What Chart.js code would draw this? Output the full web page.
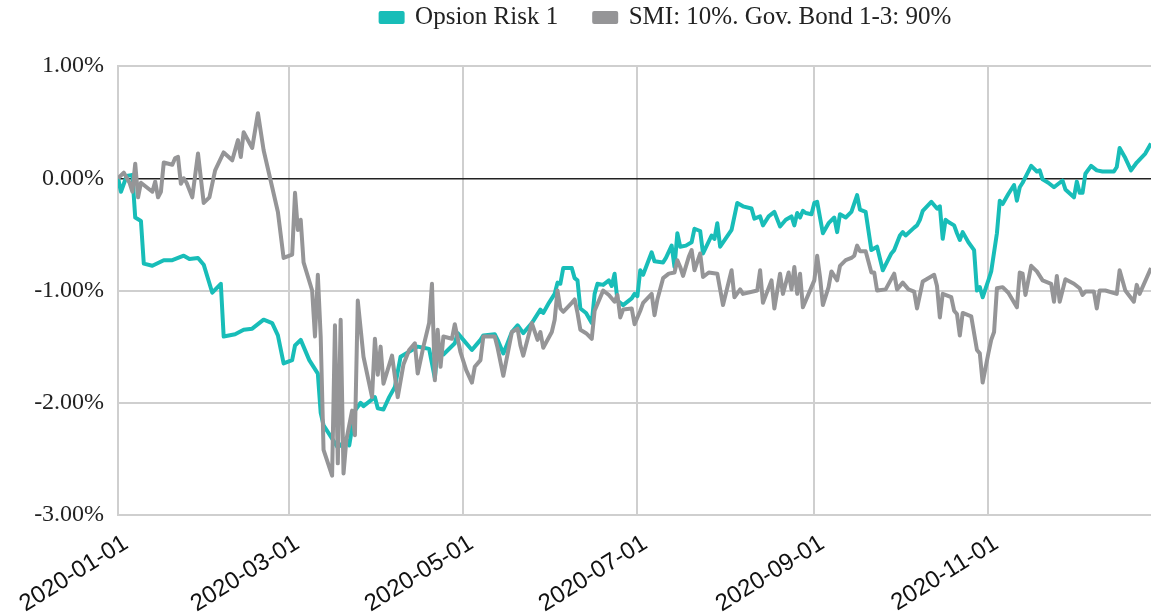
<!DOCTYPE html>
<html><head><meta charset="utf-8">
<script src="https://cdn.jsdelivr.net/npm/chart.js@4.4.1/dist/chart.umd.min.js"></script>
<style>html,body{margin:0;padding:0;background:#fff}#wrap{width:1151px;height:616px}</style>
</head><body><div id="wrap"><canvas id="c" width="1151" height="616"></canvas></div>
<script>
const seriesNames = ['Opsion Risk 1', 'SMI: 10%. Gov. Bond 1-3: 90%'];
const tickLabels = ['2020-01-01','2020-03-01','2020-05-01','2020-07-01','2020-09-01','2020-11-01'];
const axisEnd = '2020-12-28';
const yTicks = [1, 0, -1, -2, -3];

const riskDates = ['2020-01-01','2020-01-02','2020-01-04','2020-01-06','2020-01-07','2020-01-09','2020-01-10','2020-01-13','2020-01-17','2020-01-20','2020-01-24','2020-01-26','2020-01-29','2020-01-31',
'2020-02-03','2020-02-06','2020-02-07','2020-02-11','2020-02-14','2020-02-17','2020-02-21','2020-02-24','2020-02-26','2020-02-28',
'2020-03-02','2020-03-03','2020-03-05','2020-03-08','2020-03-11','2020-03-12','2020-03-13','2020-03-16','2020-03-18','2020-03-21','2020-03-22','2020-03-24','2020-03-26','2020-03-27','2020-03-31',
'2020-04-01','2020-04-03','2020-04-05','2020-04-07','2020-04-09','2020-04-13','2020-04-15','2020-04-17','2020-04-19','2020-04-21','2020-04-22','2020-04-24','2020-04-28','2020-04-29',
'2020-05-01','2020-05-04','2020-05-05','2020-05-07','2020-05-08','2020-05-12','2020-05-13','2020-05-15','2020-05-16','2020-05-18','2020-05-20','2020-05-22','2020-05-25','2020-05-26','2020-05-28','2020-05-29','2020-05-31',
'2020-06-02','2020-06-03','2020-06-04','2020-06-05','2020-06-08','2020-06-09','2020-06-10','2020-06-11','2020-06-13','2020-06-15','2020-06-16','2020-06-17','2020-06-19','2020-06-21','2020-06-22','2020-06-23','2020-06-24','2020-06-26','2020-06-29','2020-06-30',
'2020-07-01','2020-07-02','2020-07-03','2020-07-06','2020-07-07','2020-07-10','2020-07-11','2020-07-13','2020-07-14','2020-07-15','2020-07-16','2020-07-18','2020-07-20','2020-07-21','2020-07-23','2020-07-24','2020-07-27','2020-07-28','2020-07-29','2020-07-30',
'2020-08-03','2020-08-05','2020-08-07','2020-08-10','2020-08-11','2020-08-13','2020-08-14','2020-08-16','2020-08-18','2020-08-20','2020-08-22','2020-08-24','2020-08-25','2020-08-26','2020-08-27','2020-08-28','2020-08-29','2020-08-31',
'2020-09-01','2020-09-02','2020-09-04','2020-09-06','2020-09-08','2020-09-09','2020-09-10','2020-09-12','2020-09-14','2020-09-16','2020-09-17','2020-09-19','2020-09-21','2020-09-23','2020-09-25','2020-09-28','2020-09-29',
'2020-10-01','2020-10-02','2020-10-03','2020-10-06','2020-10-07','2020-10-08','2020-10-09','2020-10-12','2020-10-14','2020-10-15','2020-10-16','2020-10-17','2020-10-18','2020-10-20','2020-10-21','2020-10-22','2020-10-23','2020-10-25','2020-10-27','2020-10-28','2020-10-29','2020-10-30',
'2020-11-01','2020-11-02','2020-11-04','2020-11-05','2020-11-06','2020-11-08','2020-11-10','2020-11-11','2020-11-12','2020-11-13','2020-11-14','2020-11-16','2020-11-18','2020-11-19','2020-11-20','2020-11-22','2020-11-24','2020-11-27','2020-11-28',
'2020-12-01','2020-12-02','2020-12-03','2020-12-04','2020-12-05','2020-12-07','2020-12-09','2020-12-11','2020-12-15','2020-12-16','2020-12-17','2020-12-19','2020-12-21','2020-12-23','2020-12-26','2020-12-28'];
const riskValues = [0.00,-0.12,0.02,0.03,-0.35,-0.38,-0.76,-0.78,-0.73,-0.73,-0.69,-0.72,-0.71,-0.77,
-1.02,-0.94,-1.41,-1.39,-1.35,-1.34,-1.26,-1.29,-1.40,-1.65,
-1.62,-1.49,-1.44,-1.62,-1.74,-2.09,-2.20,-2.32,-2.40,-2.33,-2.38,-2.07,-2.00,-2.03,-1.95,
-2.05,-2.06,-1.95,-1.86,-1.59,-1.53,-1.50,-1.51,-1.52,-1.78,-1.52,-1.57,-1.47,-1.38,
-1.44,-1.53,-1.50,-1.44,-1.40,-1.39,-1.44,-1.56,-1.50,-1.37,-1.31,-1.38,-1.29,-1.25,-1.17,-1.20,-1.11,
-1.03,-0.93,-0.94,-0.80,-0.80,-0.89,-0.91,-1.16,-1.20,-1.29,-1.03,-0.94,-0.95,-0.91,-0.96,-0.85,-1.09,-1.13,-1.07,-1.03,
-1.05,-0.82,-0.86,-0.66,-0.74,-0.75,-0.71,-0.60,-0.79,-0.49,-0.61,-0.60,-0.57,-0.45,-0.47,-0.67,-0.51,-0.54,-0.40,-0.61,
-0.46,-0.22,-0.25,-0.27,-0.36,-0.34,-0.42,-0.34,-0.30,-0.43,-0.37,-0.34,-0.42,-0.31,-0.35,-0.29,-0.31,-0.32,
-0.22,-0.21,-0.49,-0.40,-0.35,-0.48,-0.32,-0.35,-0.30,-0.15,-0.28,-0.30,-0.64,-0.61,-0.82,-0.67,-0.64,
-0.51,-0.48,-0.51,-0.44,-0.42,-0.37,-0.29,-0.21,-0.27,-0.25,-0.54,-0.37,-0.39,-0.42,-0.49,-0.55,-0.48,-0.57,-0.64,-1.00,-0.97,-1.06,
-0.91,-0.83,-0.49,-0.20,-0.23,-0.14,-0.06,-0.20,-0.08,-0.04,0.01,0.11,0.06,0.07,-0.01,-0.04,-0.08,-0.02,-0.10,
-0.17,-0.03,-0.13,-0.13,0.04,0.11,0.07,0.06,0.06,0.10,0.27,0.18,0.07,0.14,0.22,0.31];

const benchDates = ['2020-01-01','2020-01-03','2020-01-05','2020-01-06','2020-01-07','2020-01-08','2020-01-09','2020-01-10','2020-01-13','2020-01-14','2020-01-15','2020-01-16','2020-01-17','2020-01-20','2020-01-21','2020-01-22','2020-01-23','2020-01-24','2020-01-25','2020-01-27','2020-01-29','2020-01-31',
'2020-02-02','2020-02-04','2020-02-07','2020-02-10','2020-02-12','2020-02-13','2020-02-14','2020-02-17','2020-02-19','2020-02-21','2020-02-24','2020-02-26','2020-02-28',
'2020-03-02','2020-03-03','2020-03-04','2020-03-05','2020-03-06','2020-03-09','2020-03-10','2020-03-11','2020-03-12','2020-03-13','2020-03-16','2020-03-17','2020-03-18','2020-03-19','2020-03-20','2020-03-21','2020-03-23','2020-03-24','2020-03-25','2020-03-27','2020-03-30','2020-03-31',
'2020-04-01','2020-04-02','2020-04-03','2020-04-06','2020-04-08','2020-04-10','2020-04-12','2020-04-14','2020-04-15','2020-04-17','2020-04-19','2020-04-20','2020-04-21','2020-04-22','2020-04-23','2020-04-24','2020-04-27','2020-04-28','2020-04-30',
'2020-05-02','2020-05-04','2020-05-05','2020-05-07','2020-05-08','2020-05-12','2020-05-13','2020-05-15','2020-05-18','2020-05-20','2020-05-21','2020-05-22','2020-05-25','2020-05-27','2020-05-28','2020-05-29',
'2020-06-01','2020-06-02','2020-06-03','2020-06-04','2020-06-05','2020-06-08','2020-06-09','2020-06-10','2020-06-11','2020-06-13','2020-06-15','2020-06-16','2020-06-19','2020-06-21','2020-06-23','2020-06-24','2020-06-25','2020-06-26','2020-06-29','2020-06-30',
'2020-07-02','2020-07-03','2020-07-06','2020-07-07','2020-07-08','2020-07-10','2020-07-12','2020-07-14','2020-07-15','2020-07-16','2020-07-17','2020-07-19','2020-07-20','2020-07-21','2020-07-23','2020-07-24','2020-07-26','2020-07-29','2020-07-31',
'2020-08-03','2020-08-04','2020-08-06','2020-08-07','2020-08-12','2020-08-13','2020-08-14','2020-08-17','2020-08-18','2020-08-20','2020-08-21','2020-08-23','2020-08-24','2020-08-25','2020-08-26','2020-08-27','2020-08-28','2020-08-30',
'2020-09-01','2020-09-02','2020-09-03','2020-09-04','2020-09-06','2020-09-07','2020-09-09','2020-09-10','2020-09-12','2020-09-14','2020-09-15','2020-09-16','2020-09-17','2020-09-19','2020-09-21','2020-09-22','2020-09-23','2020-09-26','2020-09-29','2020-09-30',
'2020-10-02','2020-10-04','2020-10-06','2020-10-07','2020-10-09','2020-10-13','2020-10-14','2020-10-15','2020-10-16','2020-10-19','2020-10-20','2020-10-21','2020-10-22','2020-10-23','2020-10-26','2020-10-28','2020-10-29','2020-10-30',
'2020-11-01','2020-11-02','2020-11-03','2020-11-04','2020-11-06','2020-11-08','2020-11-11','2020-11-12','2020-11-13','2020-11-14','2020-11-15','2020-11-16','2020-11-18','2020-11-20','2020-11-23','2020-11-24','2020-11-25','2020-11-26','2020-11-28',
'2020-12-01','2020-12-03','2020-12-04','2020-12-05','2020-12-08','2020-12-09','2020-12-10','2020-12-12','2020-12-16','2020-12-17','2020-12-19','2020-12-22','2020-12-23','2020-12-24','2020-12-28'];
const benchValues = [0.00,0.05,-0.04,-0.12,0.13,-0.17,-0.04,-0.06,-0.12,-0.03,-0.17,-0.12,0.14,0.12,0.18,0.19,-0.05,0.00,-0.04,-0.17,0.22,-0.22,
-0.17,0.07,0.23,0.16,0.34,0.19,0.41,0.27,0.58,0.25,-0.08,-0.30,-0.71,
-0.68,-0.13,-0.46,-0.37,-0.75,-1.00,-1.41,-0.86,-1.41,-2.42,-2.65,-1.31,-2.54,-1.26,-2.63,-2.33,-2.07,-2.29,-1.09,-1.59,-1.95,-1.43,
-1.75,-1.50,-1.83,-1.58,-1.95,-1.66,-1.53,-1.47,-1.74,-1.50,-1.29,-0.94,-1.80,-1.35,-1.68,-1.41,-1.43,-1.30,-1.55,
-1.71,-1.82,-1.68,-1.62,-1.41,-1.41,-1.51,-1.76,-1.37,-1.34,-1.49,-1.58,-1.29,-1.44,-1.37,-1.51,
-1.37,-1.26,-1.00,-1.16,-1.19,-1.11,-1.08,-1.20,-1.35,-1.38,-1.43,-1.18,-1.00,-1.04,-1.10,-1.04,-1.24,-1.17,-1.16,-1.30,
-1.18,-1.11,-1.03,-1.22,-1.08,-0.89,-0.85,-0.84,-0.73,-0.79,-0.87,-0.70,-0.64,-0.82,-0.67,-0.88,-0.84,-0.85,-1.13,
-0.82,-1.06,-0.99,-1.03,-1.00,-0.82,-1.11,-0.91,-1.16,-0.85,-1.03,-0.84,-0.99,-0.79,-1.03,-0.85,-1.15,-1.03,
-0.91,-0.69,-0.88,-1.13,-0.97,-0.83,-0.91,-0.78,-0.73,-0.71,-0.69,-0.60,-0.65,-0.65,-0.84,-0.84,-1.00,-0.99,-0.85,-0.99,
-0.93,-0.99,-1.01,-1.16,-0.92,-0.86,-0.96,-1.24,-1.03,-1.06,-1.18,-1.21,-1.40,-1.20,-1.23,-1.53,-1.56,-1.82,
-1.56,-1.44,-1.37,-0.98,-0.97,-1.02,-1.15,-0.84,-0.85,-1.04,-0.91,-0.78,-0.83,-0.91,-0.94,-1.10,-0.87,-1.10,-0.90,
-0.94,-0.98,-1.04,-1.01,-1.01,-1.16,-1.00,-1.00,-1.03,-0.82,-1.00,-1.10,-0.95,-1.03,-0.80];

const ORIGIN = Date.UTC(2020, 0, 1);
function dayOf(s) { const p = s.split('-').map(Number); return (Date.UTC(p[0], p[1]-1, p[2]) - ORIGIN) / 86400000; }
function labelOf(d) { const t = new Date(ORIGIN + Math.round(d) * 86400000); return t.toISOString().slice(0, 10); }
const toPoints = (dates, vals) => dates.map((s, i) => ({ x: dayOf(s), y: vals[i] }));
const tickDays = tickLabels.map(dayOf);

const LEGEND_CENTER_X = 666;
const LEGEND_CENTER_Y = 17.5;
const LEGEND_FONT = 25;
const legendShift = {
  id: 'legendShift',
  afterLayout(chart) {
    const lg = chart.legend;
    if (!lg) return;
    const pad = lg.options.labels.padding || 0;
    const dx = LEGEND_CENTER_X - (lg.left + lg.right) / 2;
    lg.left += dx; lg.right += dx;
    const newTop = LEGEND_CENTER_Y - pad - LEGEND_FONT / 2;
    const dy = newTop - lg.top;
    lg.top += dy; lg.bottom += dy;
  }
};

new Chart(document.getElementById('c'), {
  type: 'line',
  data: {
    datasets: [
      { label: seriesNames[0], data: toPoints(riskDates, riskValues), borderColor: '#18bdb8', backgroundColor: '#18bdb8',
        borderWidth: 4, pointRadius: 0, tension: 0, order: 2, borderJoinStyle: 'round' },
      { label: seriesNames[1], data: toPoints(benchDates, benchValues), borderColor: '#959597', backgroundColor: '#959597',
        borderWidth: 4, pointRadius: 0, tension: 0, order: 1, borderJoinStyle: 'round' }
    ]
  },
  options: {
    responsive: false,
    animation: false,
    devicePixelRatio: 1,
    layout: { padding: { top: 0, left: 0, right: 0, bottom: 0 } },
    plugins: {
      legend: {
        position: 'top',
        maxHeight: 66,
        labels: {
          font: { family: 'Liberation Serif', size: LEGEND_FONT },
          color: '#222',
          boxWidth: 22, boxHeight: 9, padding: 36,
          sort: (a, b) => a.datasetIndex - b.datasetIndex
        }
      },
      tooltip: { enabled: false }
    },
    scales: {
      x: {
        type: 'linear',
        min: 0, max: dayOf(axisEnd),
        afterBuildTicks: (s) => { s.ticks = tickDays.map(v => ({ value: v })); },
        afterFit: (s) => { s.height = 101; },
        ticks: {
          callback: (v) => labelOf(v),
          font: { family: 'Liberation Sans', size: 24 },
          color: '#111',
          minRotation: 32, maxRotation: 32, padding: 14, labelOffset: 8, autoSkip: false
        },
        grid: { color: '#cfcfcf', lineWidth: 2, drawTicks: false },
        border: { display: true, color: '#cfcfcf', width: 2 }
      },
      y: {
        min: -3, max: 1,
        afterBuildTicks: (s) => { s.ticks = yTicks.map(v => ({ value: v })); },
        afterFit: (s) => { s.width = 118; },
        ticks: {
          callback: (v) => v.toFixed(2) + '%',
          font: { family: 'Liberation Serif', size: 24 },
          color: '#222', padding: 14
        },
        grid: {
          color: (c) => c.tick && c.tick.value === 0 ? '#222' : '#cfcfcf',
          lineWidth: (c) => c.tick && c.tick.value === 0 ? 1.5 : 2,
          drawTicks: false
        },
        border: { display: true, color: '#cfcfcf', width: 2 }
      }
    }
  },
  plugins: [legendShift]
});
</script>
</body></html>
